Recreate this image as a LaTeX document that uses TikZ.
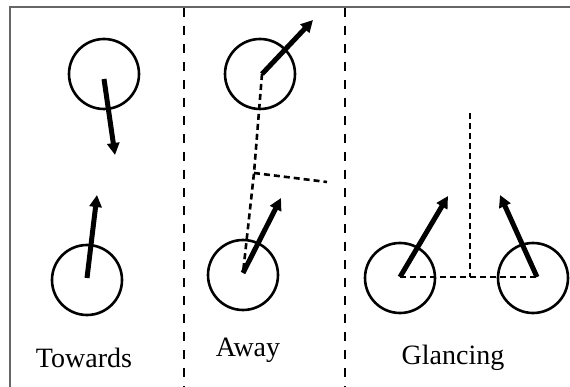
\documentclass[tikz,border=0pt]{standalone}
\usepackage{fontspec}
\setmainfont{Liberation Serif}
\usetikzlibrary{arrows.meta}
\begin{document}
\begin{tikzpicture}[x=1pt,y=-1pt,
  ball/.style={circle,draw,line width=2.6pt,minimum size=70pt,inner sep=0pt},
  vel/.style={line width=5pt,-{Triangle[length=12pt,width=12pt]}},
  guide/.style={line width=2.6pt,dash pattern=on 6pt off 4pt},
  divider/.style={line width=1.2pt,dash pattern=on 9pt off 9pt},
  frameline/.style={line width=2.2pt,draw=black!60},
  lbl/.style={font=\fontsize{28}{32}\selectfont,inner sep=0pt}]
\useasboundingbox (0,0) rectangle (570,387);
% frame
\coordinate (fbl) at (10,387);
\coordinate (ftl) at (10,7);
\coordinate (ftr) at (570,7);
\draw[frameline] (fbl) -- (ftl) -- (ftr);
% dividers
\coordinate (d1t) at (184,8); \coordinate (d1b) at (184,387);
\coordinate (d2t) at (345,8); \coordinate (d2b) at (345,387);
\draw[divider] (d1t) -- (d1b);
\draw[divider] (d2t) -- (d2b);
% Towards
\node[ball] (t1) at (104,74) {};
\node[ball] (t2) at (87,280) {};
\coordinate (t1s) at (104,79); \coordinate (t1e) at (115,155);
\coordinate (t2s) at (87,278); \coordinate (t2e) at (97,195);
\draw[vel] (t1s) -- (t1e);
\draw[vel] (t2s) -- (t2e);
\node[lbl] (lt) at (84,358) {Towards};
% Away
\node[ball] (a1) at (260,74) {};
\node[ball] (a2) at (243,275) {};
\coordinate (a1s) at (262,74); \coordinate (a1e) at (313,20);
\coordinate (a2s) at (243,273); \coordinate (a2e) at (281,198);
\coordinate (ac) at (254,173); \coordinate (ar) at (327,182);
\draw[guide] (a1s) -- (ac) -- (a2s);
\draw[guide] (ac) -- (ar);
\draw[vel] (a1s) -- (a1e);
\draw[vel] (a2s) -- (a2e);
\node[lbl] (la) at (248,350) {Away};
% Glancing
\node[ball] (g1) at (400,278) {};
\node[ball] (g2) at (533,278) {};
\coordinate (g1s) at (400,277); \coordinate (g1e) at (448,196);
\coordinate (g2s) at (537,277); \coordinate (g2e) at (500,195);
\coordinate (gt) at (470,113); \coordinate (gb) at (470,277);
\draw[guide] (g1s) -- (g2s);
\draw[guide] (gt) -- (gb);
\draw[vel] (g1s) -- (g1e);
\draw[vel] (g2s) -- (g2e);
\node[lbl] (lg) at (453,358) {Glancing};
\end{tikzpicture}
\end{document}
